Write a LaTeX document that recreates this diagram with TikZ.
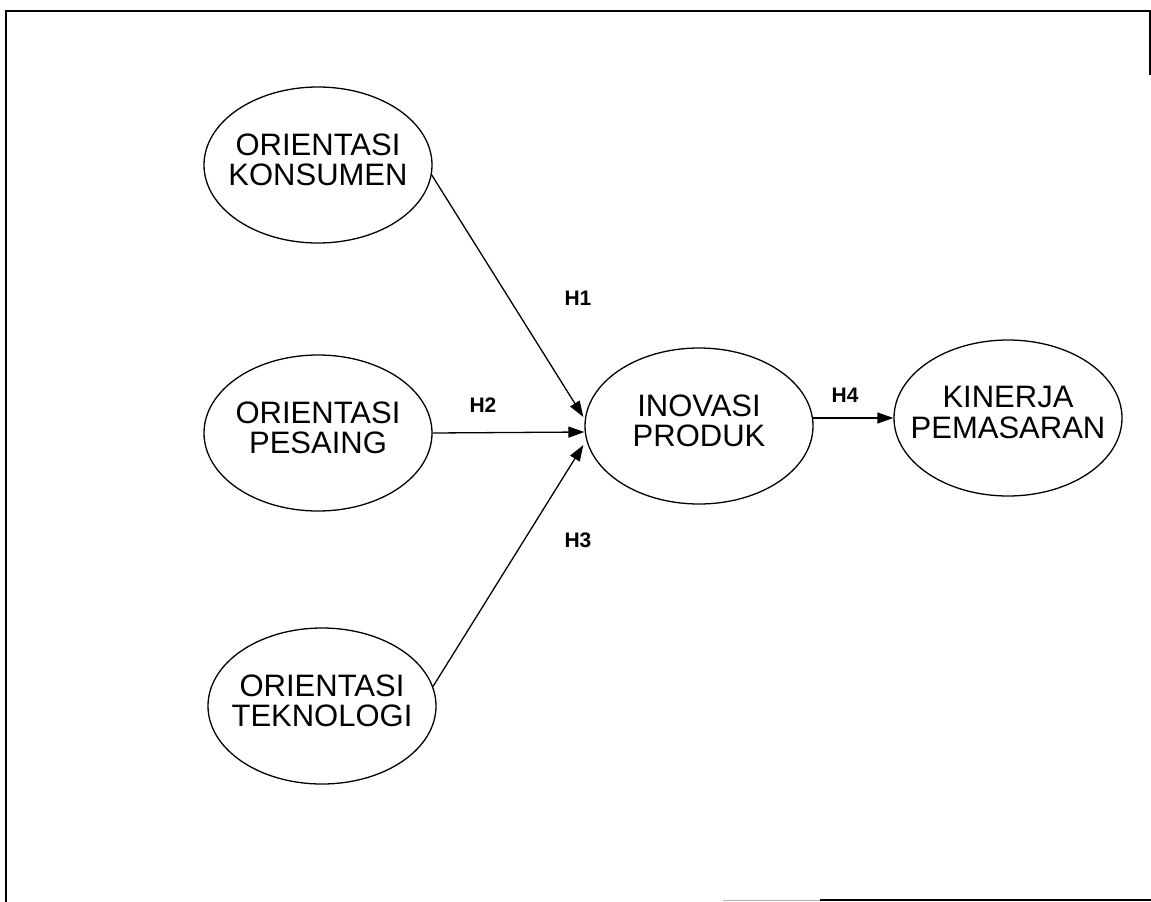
\documentclass[tikz,border=0pt]{standalone}
\usepackage{fontspec}
\setmainfont{Liberation Sans}
\usetikzlibrary{shapes.geometric,arrows.meta}
\newcommand{\twolines}[2]{\makebox[0pt]{\raisebox{-5pt}[0pt][0pt]{\begin{tabular}{@{}c@{}}#1\\#2\end{tabular}}}}
\tikzset{
  construct/.style={draw=black, line width=1.3pt, ellipse, minimum width=228pt, minimum height=156pt, inner sep=0pt, font=\fontsize{31}{29}\selectfont},
  arr/.style={line width=1.3pt, -{Triangle[length=16pt,width=11pt]}},
  hlab/.style={font=\fontsize{21}{21}\selectfont\bfseries, inner sep=0pt},
  frame/.style={line width=2pt}
}
\begin{document}
\begin{tikzpicture}[x=1pt,y=-1pt]
\useasboundingbox (0,0) rectangle (1151,902);
% frame
\coordinate (fTL) at (6,11);
\coordinate (fTR) at (1150,11);
\coordinate (fBL) at (6,902);
\coordinate (fRE) at (1150,75);
\coordinate (fB1) at (820,900);
\coordinate (fB2) at (1151,900);
\draw[frame] (fBL) -- (fTL) -- (fTR) -- (fRE);
\draw[frame] (fB1) -- (fB2);
\draw[line width=1pt, black!30] (723,900) -- (fB1);
% constructs
\node[construct] (k) at (318,165) {\twolines{ORIENTASI}{KONSUMEN}};
\node[construct] (p) at (318,433) {\twolines{ORIENTASI}{PESAING}};
\node[construct] (t) at (322,706) {\twolines{ORIENTASI}{TEKNOLOGI}};
\node[construct] (i) at (699,426) {\twolines{INOVASI}{PRODUK}};
\node[construct] (m) at (1008,418) {\twolines{KINERJA}{PEMASARAN}};
% paths
\draw[arr] (k.-5) -- ([xshift=-1pt,yshift=9pt]i.west);
\draw[arr] (p.east) -- ([yshift=-6pt]i.west);
\draw[arr] (t.10) -- ([xshift=-1pt,yshift=-19pt]i.west);
\draw[arr] ([xshift=-1pt]i.east |- m.west) -- (m.west);
% labels
\node[hlab] (h1) at (578,298) {H1};
\node[hlab] (h2) at (483,405) {H2};
\node[hlab] (h3) at (578,540) {H3};
\node[hlab] (h4) at (845,395) {H4};
\end{tikzpicture}
\end{document}
